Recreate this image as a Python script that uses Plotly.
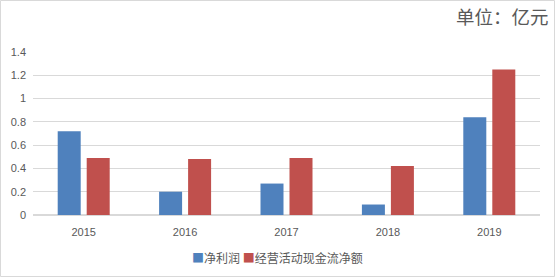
import plotly.graph_objects as go

years = ["2015", "2016", "2017", "2018", "2019"]
net_profit = [0.72, 0.20, 0.27, 0.09, 0.84]
op_cash = [0.49, 0.48, 0.49, 0.42, 1.25]
series_names = ["净利润", "经营活动现金流净额"]
colors = ["#4F81BD", "#C0504D"]

W, H = 556, 278
ml, mr, mt, mb = 33, 16, 52, 63
pw, ph = W - ml - mr, H - mt - mb

fig = go.Figure()
for name, vals, c in zip(series_names, [net_profit, op_cash], colors):
    fig.add_trace(go.Bar(x=years, y=vals, name=name, marker=dict(color=c, line=dict(width=0))))

legend_text = (f'<span style="color:{colors[0]}">■</span>{series_names[0]} '
               f'<span style="color:{colors[1]}">■</span>{series_names[1]}')

fig.update_layout(
    width=W, height=H,
    margin=dict(l=ml, r=mr, t=mt, b=mb, autoexpand=False),
    paper_bgcolor="white", plot_bgcolor="white",
    barmode="group", bargap=0.428, bargroupgap=0.207,
    font=dict(family="Liberation Sans, Noto Sans CJK SC", size=11, color="#595959"),
    showlegend=False,
    xaxis=dict(showgrid=False, showline=True, linecolor="#D9D9D9", ticks="", tickfont=dict(size=11),
               ticklabelstandoff=7),
    yaxis=dict(range=[0, 1.4], dtick=0.2, showgrid=True, gridcolor="#D9D9D9", zeroline=True,
               zerolinecolor="#D9D9D9", showline=False, ticks="", tickformat="~g", tickfont=dict(size=11),
               ticklabelstandoff=6),
    annotations=[
        dict(text="单位：亿元", xref="paper", yref="paper",
             x=(551 - ml) / pw, y=1 + (mt - 16) / ph, xanchor="right", yanchor="middle",
             showarrow=False, font=dict(family="Noto Sans CJK SC", size=18.5, color="#595959")),
        dict(text=legend_text, xref="paper", yref="paper",
             x=(277 - ml) / pw, y=-(257 - 215) / ph, xanchor="center", yanchor="middle",
             showarrow=False, font=dict(family="Noto Sans CJK SC", size=12, color="#595959")),
    ],
    shapes=[dict(type="rect", xref="paper", yref="paper",
                 x0=-(ml - 0.5) / pw, x1=1 + (mr - 1.5) / pw,
                 y0=-(mb - 1.5) / ph, y1=1 + (mt - 0.5) / ph,
                 line=dict(color="#D9D9D9", width=1), fillcolor="rgba(0,0,0,0)", layer="below")],
)

fig.write_html("out.html")
